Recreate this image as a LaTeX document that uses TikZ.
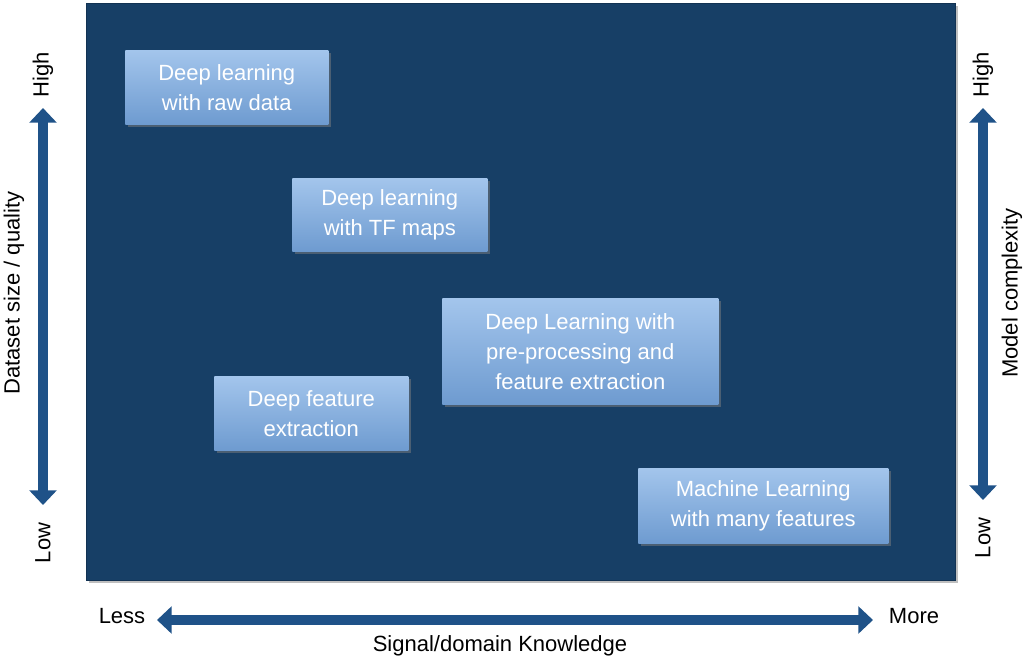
\documentclass[tikz,border=0pt]{standalone}
\usepackage{fontspec}
\setmainfont{Liberation Sans}
\usetikzlibrary{arrows.meta,shadows}
\definecolor{panel}{HTML}{173F66}
\definecolor{arr}{HTML}{1F5288}
\begin{document}
\begin{tikzpicture}[x=0.75pt,y=-0.75pt,
 box/.style={draw=none,top color=boxtop,bottom color=boxbot,text=white,align=center,font=\fontsize{16.5}{22.5}\selectfont,anchor=north west,inner sep=0pt,drop shadow={opacity=0.5,shadow xshift=2pt,shadow yshift=-2pt}},
 lab/.style={font=\fontsize{16.5}{20}\selectfont,text=black},
 axis/.style={draw=arr,line width=7.5,{Triangle[length=11,width=20]}-{Triangle[length=11,width=20]}}]
\definecolor{boxtop}{HTML}{A3C5EC}
\definecolor{boxbot}{HTML}{6E9BD0}
\useasboundingbox (0,0) rectangle (1024,661);
\fill[gray!50] (89,6) rectangle (958,583);
\node[fill=panel,draw=panel!80!black,minimum width=869*0.75pt,minimum height=577*0.75pt,anchor=north west,inner sep=0] (panel) at (86,3) {};
\node[box,minimum width=203*0.75pt,minimum height=74*0.75pt] (b1) at (125,50) {Deep learning\\with raw data};
\node[box,minimum width=195*0.75pt,minimum height=73*0.75pt] (b2) at (292,178) {Deep learning\\with TF maps};
\node[box,minimum width=276*0.75pt,minimum height=106*0.75pt] (b3) at (442,298) {Deep Learning with\\pre-processing and\\feature extraction};
\node[box,minimum width=194*0.75pt,minimum height=74*0.75pt] (b4) at (214,376) {Deep feature\\extraction};
\node[box,minimum width=250*0.75pt,minimum height=75*0.75pt] (b5) at (638,468) {Machine Learning\\with many features};
\coordinate (l1) at (43,108); \coordinate (l2) at (43,505);
\draw[axis] (l1) -- (l2);
\coordinate (r1) at (983,108); \coordinate (r2) at (983,500);
\draw[axis] (r1) -- (r2);
\coordinate (h1) at (157,620); \coordinate (h2) at (873,620);
\draw[axis] (h1) -- (h2);
\node[lab,rotate=90] (lh) at (43,75) {High};
\node[lab,rotate=90] (ll) at (43,543) {Low};
\node[lab,rotate=90] (ld) at (14,293) {Dataset size / quality};
\node[lab,rotate=90] (rh) at (983,75) {High};
\node[lab,rotate=90] (rl) at (983,538) {Low};
\node[lab,rotate=90] (rm) at (1012,293) {Model complexity};
\node[lab] (less) at (122,616) {Less};
\node[lab] (more) at (914,616) {More};
\node[lab] (sig) at (500,646) {Signal/domain Knowledge};
\end{tikzpicture}
\end{document}
